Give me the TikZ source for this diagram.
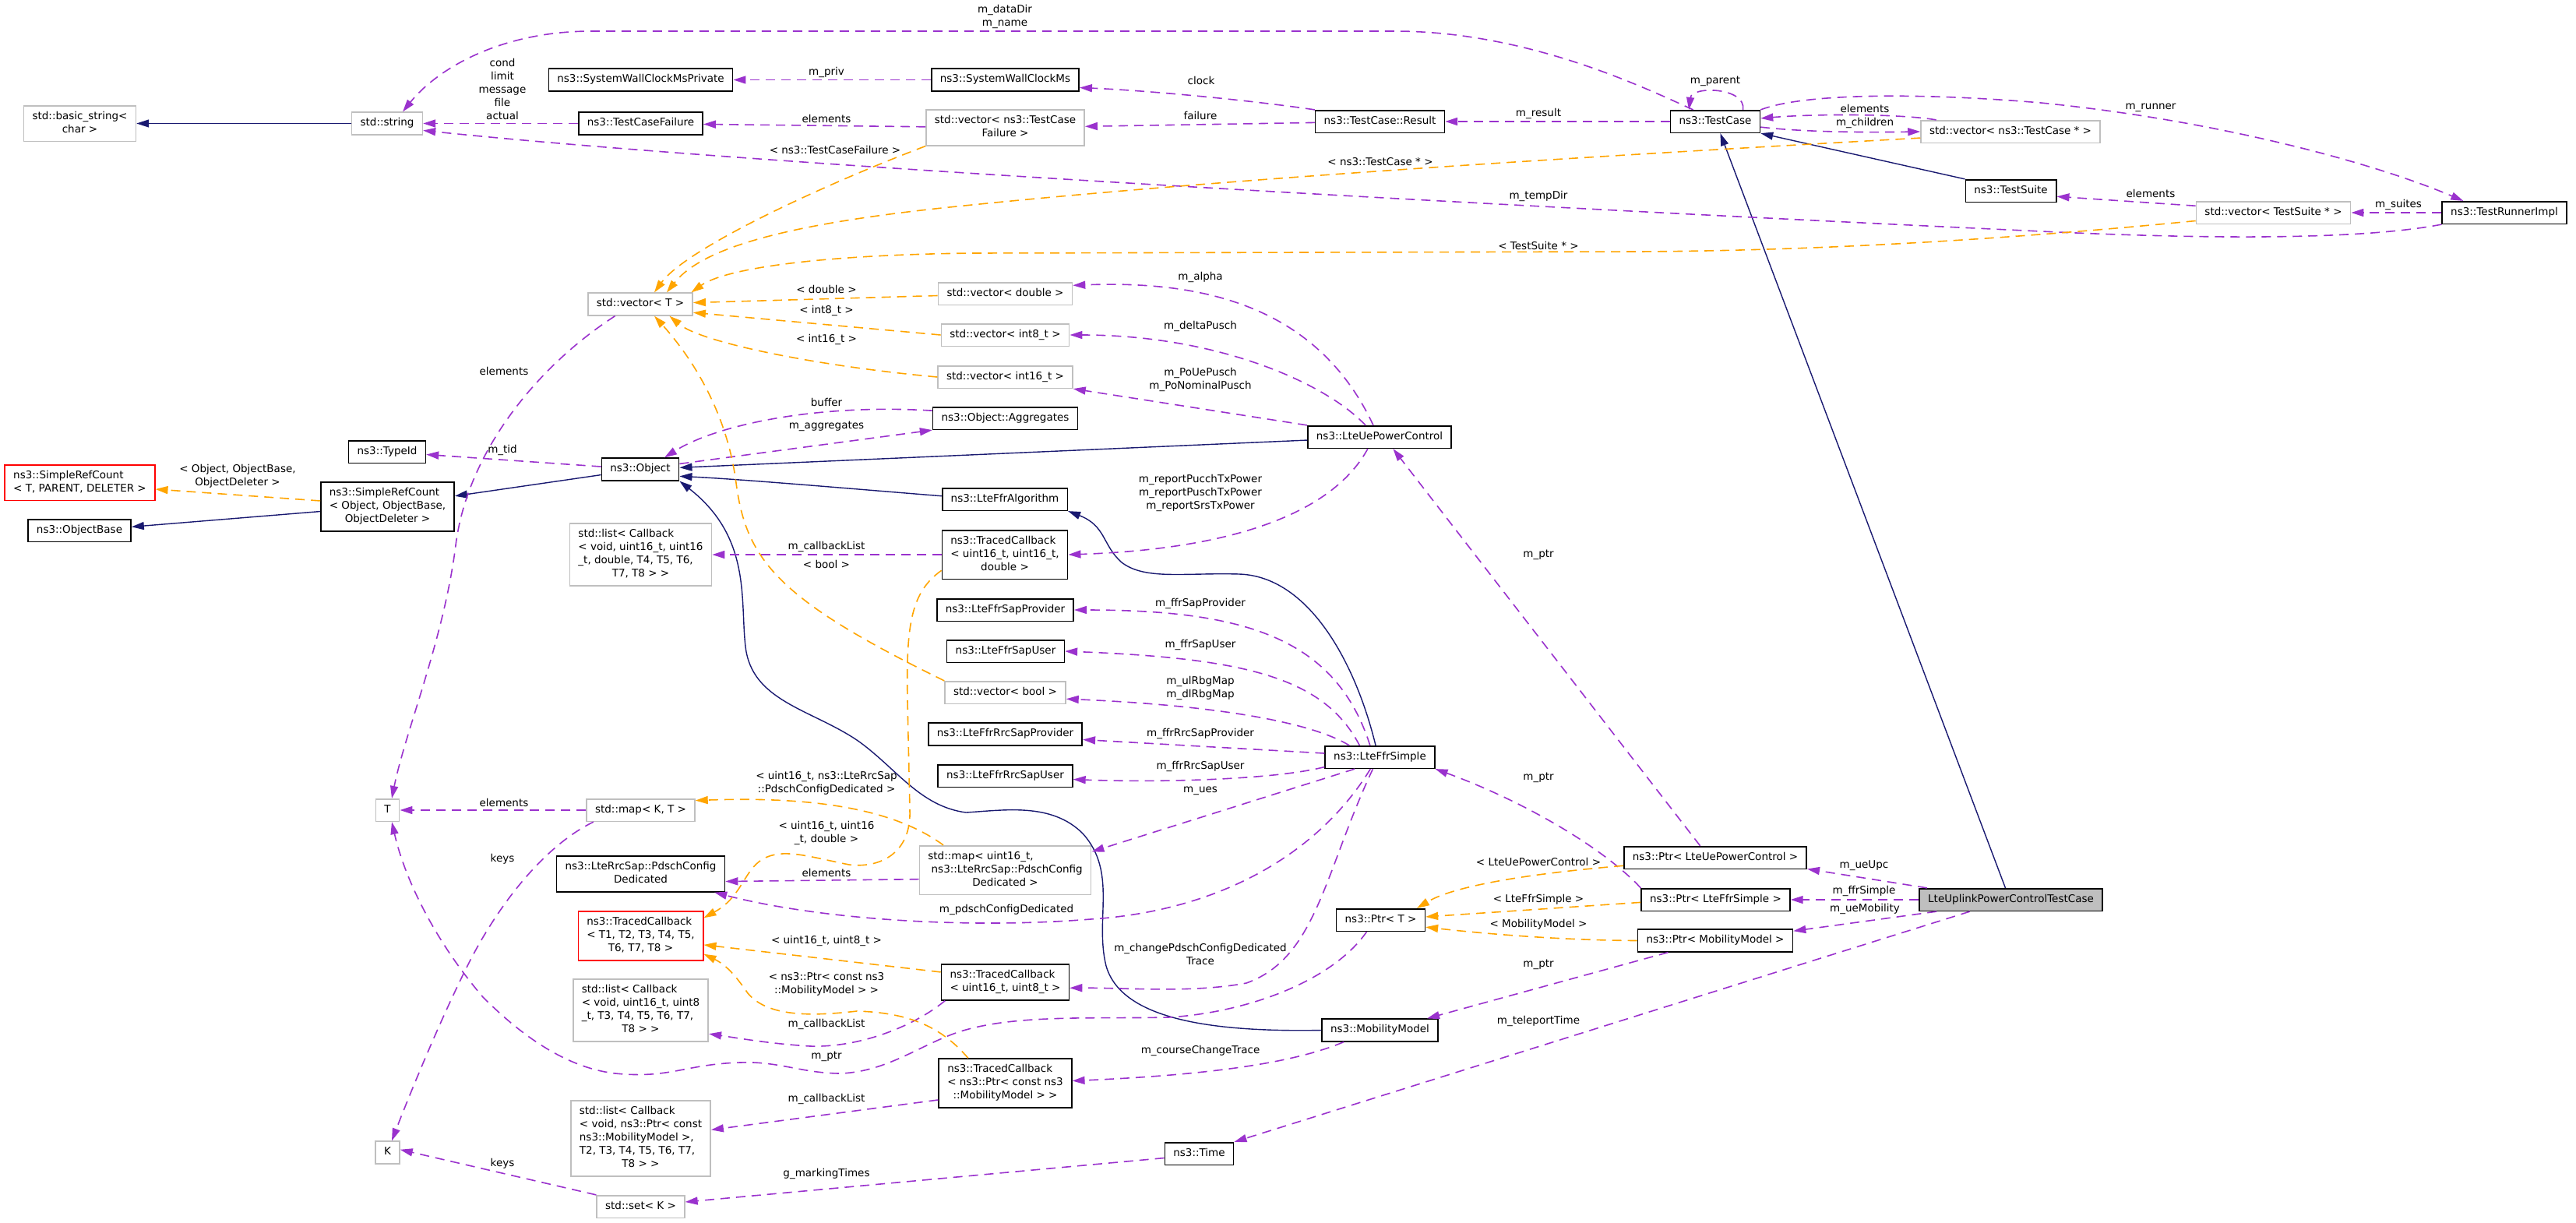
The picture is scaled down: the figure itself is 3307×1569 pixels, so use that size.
\documentclass[tikz,border=0pt]{standalone}
\usepackage{fontspec}
\setmainfont{DejaVu Sans}
\usetikzlibrary{arrows.meta}
\definecolor{doxpurple}{HTML}{9A32CD}
\definecolor{doxorange}{HTML}{FFA500}
\definecolor{doxnavy}{HTML}{191970}
\definecolor{doxgray}{HTML}{BFBFBF}
\newcommand{\dox}{\fontsize{6.75pt}{8.5pt}\selectfont}
\newcommand{\mline}[2]{\begin{tabular}{@{}l@{}}#1\\\multicolumn{1}{@{}c@{}}{#2}\end{tabular}}
\begin{document}
\begin{tikzpicture}[x=0.5pt,y=-0.5pt,
    cls/.style={draw=black,fill=white,line width=0.8pt,inner xsep=5.5pt,inner ysep=2.9pt,font=\dox,execute at begin node=\strut},
    undoc/.style={cls,draw=doxgray},
    tmplcls/.style={cls,draw=red},
    focus/.style={cls,fill=doxgray},
    lbl/.style={font=\dox,align=center,inner sep=0pt},
    inh/.style={draw=doxnavy,line width=0.7pt,-{Triangle[length=8pt,width=5pt]}},
    mem/.style={draw=doxpurple,line width=0.8pt,dash pattern=on 6pt off 4pt,-{Triangle[length=8pt,width=5pt]}},
    tmpl/.style={mem,draw=doxorange}]
  \useasboundingbox (0,0) rectangle (3307,1569);
  \node[undoc] (bstr) at (102.5,158.5) {\mline{std::basic\_string<}{char >}};
  \node[undoc] (str) at (497,158.5) {std::string};
  \node[cls] (swcmp) at (822.5,102.5) {ns3::SystemWallClockMsPrivate};
  \node[cls] (tcf) at (822.5,158.5) {ns3::TestCaseFailure};
  \node[cls] (swcm) at (1290.5,102.5) {ns3::SystemWallClockMs};
  \node[undoc] (vtcf) at (1290.5,164) {\mline{std::vector< ns3::TestCase}{Failure >}};
  \node[cls] (res) at (1771.5,156) {ns3::TestCase::Result};
  \node[cls] (tc) at (2202,156) {ns3::TestCase};
  \node[undoc] (vtc) at (2581,169) {std::vector< ns3::TestCase * >};
  \node[cls] (ts) at (2581.5,245) {ns3::TestSuite};
  \node[undoc] (vts) at (2918.5,273) {std::vector< TestSuite * >};
  \node[cls] (tri) at (3215,273) {ns3::TestRunnerImpl};
  \node[undoc] (vT) at (822,390.5) {std::vector< T >};
  \node[undoc] (vd) at (1290.5,377) {std::vector< double >};
  \node[undoc] (v8) at (1290.5,430) {std::vector< int8\_t >};
  \node[undoc] (v16) at (1290.5,484) {std::vector< int16\_t >};
  \node[cls] (agg) at (1290.5,537) {ns3::Object::Aggregates};
  \node[cls] (upc) at (1771,561) {ns3::LteUePowerControl};
  \node[cls] (tid) at (497,580) {ns3::TypeId};
  \node[cls] (obj) at (822,602.5) {ns3::Object};
  \node[tmplcls] (srcT) at (102.5,619.5) {\mline{ns3::SimpleRefCount}{< T, PARENT, DELETER >}};
  \node[cls] (srcO) at (497.5,650.5) {\mline{ns3::SimpleRefCount\\< Object, ObjectBase,}{ObjectDeleter >}};
  \node[cls] (ob) at (102,681) {ns3::ObjectBase};
  \node[cls] (ffra) at (1290,641) {ns3::LteFfrAlgorithm};
  \node[undoc] (lcb1) at (822.5,712) {\mline{std::list< Callback\\< void, uint16\_t, uint16\\\_t, double, T4, T5, T6,}{T7, T8 > >}};
  \node[cls] (tcb1) at (1290,712) {\mline{ns3::TracedCallback\\< uint16\_t, uint16\_t,}{double >}};
  \node[cls] (fsp) at (1290.5,783) {ns3::LteFfrSapProvider};
  \node[cls] (fsu) at (1291,836) {ns3::LteFfrSapUser};
  \node[undoc] (vb) at (1290.5,889) {std::vector< bool >};
  \node[cls] (frsp) at (1290.5,942.5) {ns3::LteFfrRrcSapProvider};
  \node[cls] (frsu) at (1290.5,996) {ns3::LteFfrRrcSapUser};
  \node[cls] (ffrs) at (1771.5,972) {ns3::LteFfrSimple};
  \node[undoc] (T) at (497.5,1040) {T};
  \node[undoc] (mapKT) at (822.5,1040) {std::map< K, T >};
  \node[cls] (pcd) at (822.5,1122) {\mline{ns3::LteRrcSap::PdschConfig}{Dedicated}};
  \node[undoc] (mapu) at (1290.5,1117) {\mline{std::map< uint16\_t,\\\ ns3::LteRrcSap::PdschConfig}{Dedicated >}};
  \node[cls] (pupc) at (2202,1101) {ns3::Ptr< LteUePowerControl >};
  \node[cls] (ptrT) at (1772.5,1181) {ns3::Ptr< T >};
  \node[cls] (pffr) at (2202.5,1155) {ns3::Ptr< LteFfrSimple >};
  \node[focus] (ulpc) at (2581.5,1155) {LteUplinkPowerControlTestCase};
  \node[tmplcls] (tcbT) at (822.5,1201.5) {\mline{ns3::TracedCallback\\< T1, T2, T3, T4, T5,}{T6, T7, T8 >}};
  \node[cls] (pmm) at (2202,1207.5) {ns3::Ptr< MobilityModel >};
  \node[cls] (tcb2) at (1290.5,1261) {\mline{ns3::TracedCallback}{< uint16\_t, uint8\_t >}};
  \node[undoc] (lcb2) at (822.5,1297) {\mline{std::list< Callback\\< void, uint16\_t, uint8\\\_t, T3, T4, T5, T6, T7,}{T8 > >}};
  \node[cls] (mm) at (1771.5,1322.5) {ns3::MobilityModel};
  \node[cls] (tcb3) at (1290.5,1390.5) {\mline{ns3::TracedCallback\\< ns3::Ptr< const ns3}{::MobilityModel > >}};
  \node[undoc] (lcb3) at (822.5,1461.5) {\mline{std::list< Callback\\< void, ns3::Ptr< const\\ns3::MobilityModel >,\\T2, T3, T4, T5, T6, T7,}{T8 > >}};
  \node[undoc] (K) at (497.5,1479.5) {K};
  \node[cls] (time) at (1539.5,1481) {ns3::Time};
  \node[undoc] (setK) at (822.5,1549) {std::set< K >};
  \begin{scope}[inh]
    \draw (str) -- (bstr);
    \draw (ts.north west) -- (tc.south east);
    \draw (ulpc.115) -- (tc.-67);
    \draw (upc) -- (obj);
    \draw (obj.188) -- (srcO.9);
    \draw (srcO.184) -- (ob.4);
    \draw (ffra.177) .. controls (1100,628) and (950,615) .. (obj.-10);
    \draw (ffrs.110) .. controls (1740,850) and (1680,740) .. (1591,737) .. controls (1520,735) and (1470,745) .. (1440,722) .. controls (1415,700) and (1420,675) .. (ffra.south east);
    \draw (mm.west) .. controls (1560,1325) and (1440,1310) .. (1420,1240) .. controls (1405,1180) and (1435,1120) .. (1390,1070) .. controls (1350,1030) and (1290,1040) .. (1240,1043) .. controls (1180,1035) and (1150,985) .. (1100,950) .. controls (1040,910) and (965,900) .. (957,830) .. controls (950,770) and (965,690) .. (obj.south east);
  \end{scope}
  \begin{scope}[mem]
    \draw (tcf) -- (str) node[lbl] at (645,114) {cond\\limit\\message\\file\\actual};
    \draw (tc.152) .. controls (2110,112) and (1960,40) .. (1790,40) -- (760,40) .. controls (640,40) and (560,90) .. (str.37) node[lbl] at (1290,21) {m\_dataDir\\m\_name};
    \draw (tri.south west) .. controls (3020,310) and (2800,306) .. (2600,296) .. controls (2000,268) and (1000,215) .. (str.-11) node[lbl] at (1975,252) {m\_tempDir};
    \draw (swcm) -- (swcmp) node[lbl] at (1061,93) {m\_priv};
    \draw (vtcf) -- (tcf) node[lbl] at (1061,152) {elements};
    \draw (res.north west) .. controls (1600,128) and (1470,116) .. (swcm.-6) node[lbl] at (1542,103) {clock};
    \draw (res) -- (vtcf) node[lbl] at (1541,148) {failure};
    \draw (tc) -- (res) node[lbl] at (1975,146) {m\_result};
    \draw (tc.23) .. controls (2242,112) and (2172,110) .. (tc.156) node[lbl] at (2202,104) {m\_parent};
    \draw (tc.north east) .. controls (2320,118) and (2480,120) .. (2620,132) .. controls (2850,155) and (3050,210) .. (tri.164) node[lbl] at (2761,138) {m\_runner};
    \draw (vtc.171) .. controls (2440,146) and (2330,146) .. (tc.4) node[lbl] at (2394,139) {elements};
    \draw (tc.-7) .. controls (2320,170) and (2400,170) .. (vtc.west) node[lbl] at (2394,158) {m\_children};
    \draw (vts.175) -- (ts.-7) node[lbl] at (2761,248) {elements};
    \draw (tri) -- (vts) node[lbl] at (3079,263) {m\_suites};
    \draw (vT.205) .. controls (690,470) and (600,580) .. (585,700) .. controls (570,820) and (520,940) .. (T.70) node[lbl] at (647,476) {elements};
    \draw (upc.118) .. controls (1690,390) and (1540,360) .. (vd.7) node[lbl] at (1541,356) {m\_alpha};
    \draw (upc.140) .. controls (1700,490) and (1560,430) .. (v8.east) node[lbl] at (1541,419) {m\_deltaPusch};
    \draw (upc.north west) -- (v16.south east) node[lbl] at (1541,487.5) {m\_PoUePusch\\m\_PoNominalPusch};
    \draw (upc.-135) .. controls (1710,660) and (1580,705) .. (tcb1.east) node[lbl] at (1541,632.5) {m\_reportPucchTxPower\\m\_reportPuschTxPower\\m\_reportSrsTxPower};
    \draw (agg.174) .. controls (1050,518) and (920,545) .. (obj.26) node[lbl] at (1061,516) {buffer};
    \draw (obj.8) -- (agg.south west) node[lbl] at (1061,547) {m\_aggregates};
    \draw (obj) -- (tid) node[lbl] at (645,578) {m\_tid};
    \draw (tcb1) -- (lcb1) node[lbl] at (1061,702) {m\_callbackList};
    \draw (ffrs.130) .. controls (1715,820) and (1600,783) .. (fsp.east) node[lbl] at (1541,775) {m\_ffrSapProvider};
    \draw (ffrs.150) .. controls (1700,870) and (1600,845) .. (fsu.east) node[lbl] at (1541,828) {m\_ffrSapUser};
    \draw (ffrs.159) .. controls (1680,925) and (1550,905) .. (vb.-6) node[lbl] at (1541,883.5) {m\_ulRbgMap\\m\_dlRbgMap};
    \draw (ffrs.176) -- (frsp.-4) node[lbl] at (1541,942) {m\_ffrRrcSapProvider};
    \draw (ffrs.190) .. controls (1640,1000) and (1500,1005) .. (frsu.-3) node[lbl] at (1541,984) {m\_ffrRrcSapUser};
    \draw (ffrs.-155) -- (mapu.12) node[lbl] at (1541,1015) {m\_ues};
    \draw (ffrs.-129) .. controls (1690,1100) and (1560,1170) .. (1400,1180) .. controls (1240,1193) and (1050,1180) .. (pcd.-14) node[lbl] at (1292,1168) {m\_pdschConfigDedicated};
    \draw (ffrs.-121) .. controls (1700,1120) and (1690,1230) .. (1600,1262) .. controls (1530,1275) and (1450,1268) .. (tcb2.-5) node[lbl] at (1541,1225) {m\_changePdschConfigDedicated\\Trace};
    \draw (mapu.186) -- (pcd.-5) node[lbl] at (1061,1120) {elements};
    \draw (mapKT) -- (T) node[lbl] at (647,1030) {elements};
    \draw (mapKT.194) .. controls (700,1085) and (640,1160) .. (600,1240) .. controls (560,1320) and (520,1420) .. (K.70) node[lbl] at (645,1103) {keys};
    \draw (setK.north west) -- (K.13) node[lbl] at (645,1494) {keys};
    \draw (pffr.north west) .. controls (2060,1090) and (1960,1030) .. (ffrs.-12) node[lbl] at (1975,998) {m\_ptr};
    \draw (pupc.142) -- (upc.-41) node[lbl] at (1975,712) {m\_ptr};
    \draw (ptrT.-140) .. controls (1710,1260) and (1600,1300) .. (1500,1306) .. controls (1400,1308) and (1300,1302) .. (1230,1325) .. controls (1180,1342) and (1140,1375) .. (1080,1378) .. controls (1030,1378) and (1000,1362) .. (950,1364) .. controls (880,1366) and (860,1385) .. (790,1378) .. controls (720,1370) and (660,1320) .. (620,1280) .. controls (560,1210) and (520,1130) .. (T.-70) node[lbl] at (1061,1356) {m\_ptr};
    \draw (pmm.194) -- (mm.14) node[lbl] at (1975,1238) {m\_ptr};
    \draw (mm.198) .. controls (1660,1365) and (1550,1380) .. (tcb3.2) node[lbl] at (1541,1349) {m\_courseChangeTrace};
    \draw (tcb3.194) -- (lcb3.7) node[lbl] at (1061,1411) {m\_callbackList};
    \draw (tcb2.197) .. controls (1170,1320) and (1100,1345) .. (1040,1343) .. controls (990,1340) and (950,1333) .. (lcb2.-19) node[lbl] at (1061,1315) {m\_callbackList};
    \draw (ulpc.196) -- (time.north east) node[lbl] at (1975,1311) {m\_teleportTime};
    \draw (time.187) -- (setK.6) node[lbl] at (1061,1507) {g\_markingTimes};
    \draw (ulpc.172) -- (pupc.-7) node[lbl] at (2393,1111) {m\_ueUpc};
    \draw (ulpc) -- (pffr) node[lbl] at (2393,1144) {m\_ffrSimple};
    \draw (ulpc.189) -- (pmm.7) node[lbl] at (2394,1167) {m\_ueMobility};
  \end{scope}
  \begin{scope}[tmpl]
    \draw (vtcf.south west) .. controls (1050,240) and (880,320) .. (vT.40) node[lbl] at (1072,192) {< ns3::TestCaseFailure >};
    \draw (vtc.184) .. controls (2200,192) and (1600,225) .. (1200,268) .. controls (1000,290) and (900,320) .. (vT.24) node[lbl] at (1772,208) {< ns3::TestCase * >};
    \draw (vts.186) .. controls (2600,305) and (2350,322) .. (2100,323) -- (1250,325) .. controls (1050,327) and (930,345) .. (vT.13) node[lbl] at (1975,315) {< TestSuite * >};
    \draw (vd) -- (vT) node[lbl] at (1061,371) {< double >};
    \draw (v8.west) -- (vT.-9) node[lbl] at (1061,399) {< int8\_t >};
    \draw (v16.west) .. controls (1050,470) and (900,440) .. (vT.-22) node[lbl] at (1061,436) {< int16\_t >};
    \draw (vb.north west) .. controls (1000,770) and (958,720) .. (945,620) .. controls (932,520) and (880,450) .. (vT.-40) node[lbl] at (1061,724) {< bool >};
    \draw (srcO.175) -- (srcT.-5) node[lbl] at (305,611.5) {< Object, ObjectBase,\\ObjectDeleter >};
    \draw (tcb1.194) .. controls (1170,760) and (1163,800) .. (1165,900) -- (1168,1040) .. controls (1170,1095) and (1130,1115) .. (1090,1110) .. controls (1040,1100) and (1010,1090) .. (985,1100) .. controls (955,1112) and (955,1150) .. (tcbT.16) node[lbl] at (1061,1069) {< uint16\_t, uint16\\\_t, double >};
    \draw (tcb2.171) -- (tcbT.-8) node[lbl] at (1061,1208) {< uint16\_t, uint8\_t >};
    \draw (tcb3.146) .. controls (1210,1320) and (1170,1300) .. (1100,1298) .. controls (1040,1305) and (985,1305) .. (960,1275) .. controls (948,1258) and (935,1240) .. (tcbT.-16) node[lbl] at (1061,1263.5) {< ns3::Ptr< const ns3\\::MobilityModel > >};
    \draw (mapu.158) .. controls (1150,1040) and (1050,1022) .. (mapKT.10) node[lbl] at (1061,1005) {< uint16\_t, ns3::LteRrcSap\\::PdschConfigDedicated >};
    \draw (pupc.185) .. controls (1980,1120) and (1870,1135) .. (ptrT.18) node[lbl] at (1975,1106) {< LteUePowerControl >};
    \draw (pffr.182) -- (ptrT.4) node[lbl] at (1975,1155) {< LteFfrSimple >};
    \draw (pmm.west) .. controls (2000,1207) and (1900,1198) .. (ptrT.-9) node[lbl] at (1975,1187) {< MobilityModel >};
  \end{scope}
\end{tikzpicture}
\end{document}
